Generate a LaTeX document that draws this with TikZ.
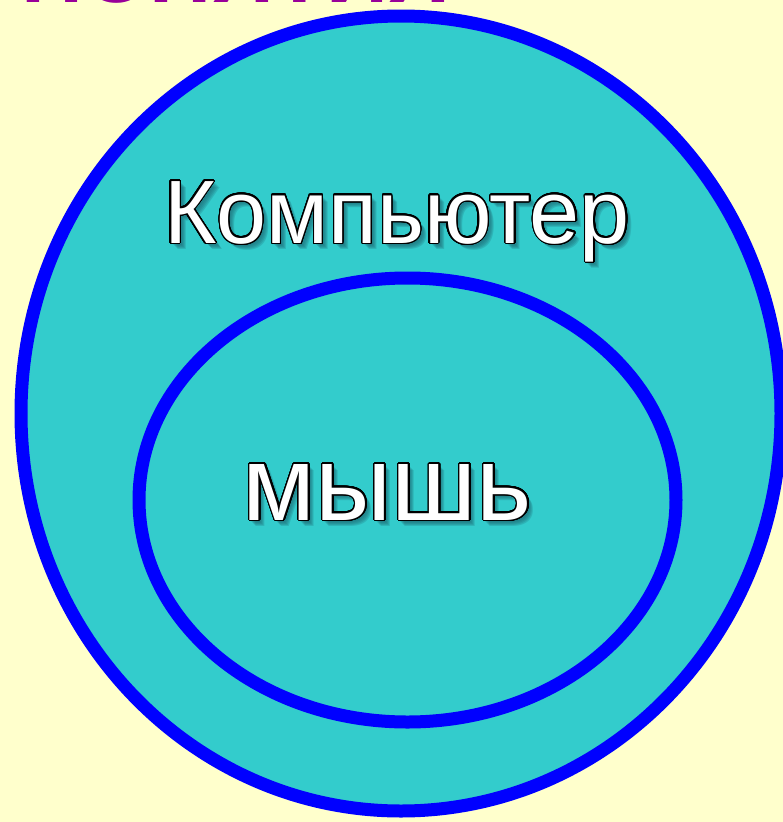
\documentclass[tikz,border=0pt]{standalone}
\usetikzlibrary{shapes.geometric}
\usepackage{fontspec}
\setmainfont{Liberation Sans}
\usepackage{contour}
\contourlength{1.3pt}
\contournumber{32}
\definecolor{bgyellow}{HTML}{FFFFCC}
\definecolor{tealfill}{HTML}{33CCCC}
\definecolor{ringblue}{HTML}{0000FF}
\definecolor{titlepurple}{HTML}{990099}
\definecolor{shadowcol}{HTML}{1E6E78}
\tikzset{
  ring/.style={draw=ringblue, line width=13pt, fill=tealfill, ellipse, inner sep=0pt},
  bigtext/.style={inner sep=0pt, text=white},
  shadowtext/.style={inner sep=0pt, text=shadowcol, opacity=0.25},
  titletext/.style={inner sep=0pt, text=titlepurple, font=\fontsize{86}{94}\selectfont\bfseries}
}
\begin{document}
\begin{tikzpicture}[x=1pt,y=1pt]
\useasboundingbox (0,0) rectangle (783,-822);
\fill[bgyellow] (0,0) rectangle (783,-822);
\node[titletext, anchor=base west] (title) at (21,-2) {ПОНЯТИЯ};
\node[ring, minimum width=760pt, minimum height=795pt] (outer) at (401,-413.5) {};
\node[ring, minimum width=537pt, minimum height=444pt] (inner) at (407.5,-500) {};
% shadows
\foreach \dx/\dy in {2/-2,3/-3,4/-4,5/-5,6/-6} {
  \node[shadowtext, anchor=base, font=\fontsize{90}{98}\selectfont] at (397+\dx,-243+\dy) {Компьютер};
  \node[shadowtext, anchor=base, font=\fontsize{106}{114}\selectfont] at (387.5+\dx,-520+\dy) {мышь};
}
\node[bigtext, anchor=base, font=\fontsize{90}{98}\selectfont] (comp) at (397,-243) {\contour{black}{Компьютер}};
\node[bigtext, anchor=base, font=\fontsize{106}{114}\selectfont] (mouse) at (387.5,-520) {\contour{black}{мышь}};
\end{tikzpicture}
\end{document}
